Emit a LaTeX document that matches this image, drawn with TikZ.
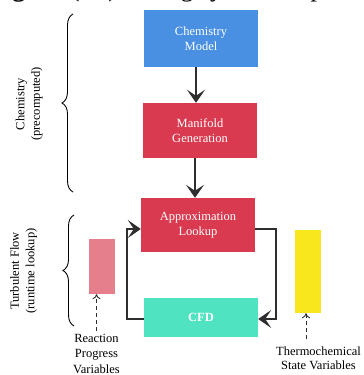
\documentclass[tikz,border=0pt]{standalone}
\usepackage{fontspec}
\setmainfont{Liberation Serif}
\usetikzlibrary{arrows.meta,decorations.pathreplacing,calc}
\definecolor{cblue}{HTML}{4A90E2}
\definecolor{cred}{HTML}{D93A4F}
\definecolor{cteal}{HTML}{50E3C2}
\definecolor{cpink}{HTML}{E67F8C}
\definecolor{cyellow}{HTML}{F8E71C}
\tikzset{
  box/.style={rectangle, minimum width=114pt, inner sep=0pt, align=center,
    text=white, font=\fontsize{12.5}{15.5}\selectfont},
  bar/.style={rectangle, minimum width=26pt, inner sep=0pt},
  lbl/.style={align=center, inner sep=0pt, font=\fontsize{12.5}{15.5}\selectfont},
  arr/.style={draw=black!82, line width=1.2pt,
    -{Stealth[length=13pt,width=18pt,inset=6pt]}},
  dasharr/.style={draw=black!82, line width=0.9pt, dashed, dash pattern=on 4pt off 3pt,
    -{To[length=5pt,width=8pt]}},
  brc/.style={draw=black, line width=0.9pt, decorate,
    decoration={brace, amplitude=11pt}}
}
\begin{document}
\begin{tikzpicture}[x=1pt,y=-1pt]
\useasboundingbox (0,0) rectangle (364,375);
\clip (0,0) rectangle (364,375);
% clipped caption
\node[anchor=base west, inner sep=0pt, font=\fontsize{26}{30}\selectfont] (cap) at (-11,-4)
  {\textbf{Fig. 2:} (Re)solving systems separately};
% boxes
\node[box, fill=cblue, minimum height=57pt] (chem) at (201,38.5) {Chemistry\\Model};
\node[box, fill=cred, minimum height=55pt] (mani) at (200,130.5) {Manifold\\Generation};
\node[box, fill=cred, minimum height=54pt] (appr) at (198,225) {Approximation\\Lookup};
\node[box, fill=cteal, minimum height=39pt, font=\bfseries\fontsize{12.5}{15.5}\selectfont] (cfd) at (201,317.5) {CFD};
\node[bar, fill=cpink, minimum height=55pt] (pink) at (102,266.5) {};
\node[bar, fill=cyellow, minimum height=83pt] (yel) at (308,271.5) {};
% labels
\node[lbl, anchor=north] (rpv) at (96.5,334) {Reaction\\Progress\\Variables};
\node[lbl, anchor=north, font=\fontsize{12.5}{14.5}\selectfont] (tsv) at (318.5,346.5) {Thermochemical\\State Variables};
\node[lbl, rotate=90] (lchem) at (29,104) {Chemistry\\(precomputed)};
\node[lbl, rotate=90] (lturb) at (23.5,271) {Turbulent Flow\\(runtime lookup)};
% braces
\coordinate (cb1) at (73,192);
\coordinate (cb2) at (73,14);
\coordinate (tb1) at (74,326);
\coordinate (tb2) at (74,215);
\draw[brc] (cb1) -- (cb2);
\draw[brc] (tb1) -- (tb2);
% main arrows
\draw[arr] ([xshift=-5pt]chem.south) -- ([xshift=-5pt]chem.south |- mani.north);
\draw[arr] ([xshift=-5pt]mani.south) -- ([xshift=-5pt]mani.south |- appr.north);
\coordinate (rr) at (276,0);
\coordinate (ll) at (127,0);
\draw[arr] ([yshift=-4pt]appr.east) -- ([yshift=-4pt]appr.east -| rr)
  -- ([yshift=-1.5pt]cfd.east -| rr) -- ([yshift=-1.5pt]cfd.east);
\draw[arr] ([yshift=-1.5pt]cfd.west) -- ([yshift=-1.5pt]cfd.west -| ll)
  -- ([yshift=-4pt]appr.west -| ll) -- ([yshift=-4pt]appr.west);
% dashed arrows
\draw[dasharr] ([yshift=3pt]rpv.north) -- (rpv.north |- pink.south);
\coordinate (ya) at (306,339);
\draw[dasharr] (ya) -- (ya |- yel.south);
\end{tikzpicture}
\end{document}
